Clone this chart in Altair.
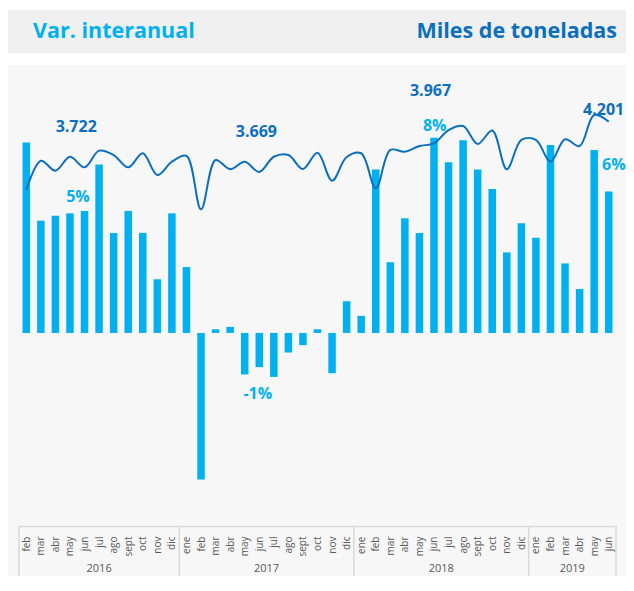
import altair as alt
import pandas as pd

months = ["feb", "mar", "abr", "may", "jun", "jul", "ago", "sept", "oct", "nov", "dic",
          "ene", "feb", "mar", "abr", "may", "jun", "jul", "ago", "sept", "oct", "nov", "dic",
          "ene", "feb", "mar", "abr", "may", "jun", "jul", "ago", "sept", "oct", "nov", "dic",
          "ene", "feb", "mar", "abr", "may", "jun"]
years = ["2016"] * 11 + ["2017"] * 12 + ["2018"] * 12 + ["2019"] * 6

var_interanual = [7.8, 4.6, 4.8, 4.9, 5.0, 6.9, 4.1, 5.0, 4.1, 2.2, 4.9,
                  2.7, -6.0, 0.15, 0.25, -1.7, -1.4, -1.8, -0.8, -0.5, 0.15, -1.65, 1.3,
                  0.7, 6.7, 2.9, 4.7, 4.1, 8.0, 7.0, 7.9, 6.7, 5.9, 3.3, 4.5,
                  3.9, 7.7, 2.85, 1.8, 7.5, 5.8]

miles_toneladas = [298.0, 324.0, 315.1, 327.5, 318.1, 332.9, 329.0, 318.1, 330.6, 311.3, 323.1,
                   328.2, 280.9, 324.6, 316.4, 323.1, 314.0, 327.5, 329.0, 316.6, 331.1, 306.3, 327.3,
                   330.6, 299.5, 333.5, 332.0, 337.0, 339.4, 351.2, 354.8, 338.8, 350.8, 316.4, 342.4,
                   342.4, 323.1, 343.0, 337.0, 364.5, 358.6]

# annotations
pct_text = ["5%", "-1%", "8%", "6%"]
pct_anchor = [3.55, 15.9, 28.05, 40.35]
pct_value = [5.57, -2.5, 8.48, 6.89]

tot_text = ["3.722", "3.669", "3.967", "4.201"]
tot_anchor = [3.43, 15.8, 27.76, 39.65]
tot_value = [353.9, 349.4, 385.8, 369.0]

W, H = 597, 451
BAR_DOM = [-7.91, 10.57]
TON_DOM = [0, 400]
LIGHT = "#00b0f0"
DARK = "#0b6fc0"
FONT = "Open Sans"

df = pd.DataFrame({
    "idx": list(range(len(months))),
    "month": months,
    "year": years,
    "var": var_interanual,
    "ton": miles_toneladas,
})
pct_df = pd.DataFrame({"t": pct_text, "idx": pct_anchor, "v": pct_value})
tot_df = pd.DataFrame({"t": tot_text, "idx": tot_anchor, "v": tot_value})
one = pd.DataFrame({"a": [0]})
head_df = pd.DataFrame({"t": ["Var. interanual"]})
head_df2 = pd.DataFrame({"t": ["Miles de toneladas"]})

label_expr = "[" + ",".join("'%s'" % m for m in months) + "][datum.value]"

xscale = alt.Scale(domain=[-0.5, len(months) - 0.5], nice=False, zero=False, padding=0)
x_axis = alt.Axis(values=list(range(len(months))), labelExpr=label_expr, labelAngle=-90,
                  ticks=False, tickSize=0, labelPadding=10, domain=True, domainColor="#d9d9d9",
                  domainWidth=1.5, grid=False, title=None, labelFont=FONT, labelFontSize=10,
                  labelColor="#595959", labelOverlap=False, labelBound=False, labelFlush=False,
                  zindex=1)


def xq(field):
    return alt.X(field, type="quantitative", scale=xscale, axis=x_axis, title=None)


bar_y = alt.Y("var:Q", scale=alt.Scale(domain=BAR_DOM, nice=False, zero=False), axis=None)
ton_y = alt.Y("ton:Q", scale=alt.Scale(domain=TON_DOM, nice=False, zero=False), axis=None)

header_bg = alt.Chart(one).mark_rect(color="#f0f0f0").encode(
    x=alt.value(-13), x2=alt.value(W + 12), y=alt.value(-65), y2=alt.value(-22))
panel_bg = alt.Chart(one).mark_rect(color="#f7f7f7").encode(
    x=alt.value(-11), x2=alt.value(W + 12), y=alt.value(-10), y2=alt.value(H + 70))

head1 = alt.Chart(head_df).mark_text(align="left", baseline="middle", font=FONT, fontSize=21.5,
                                      fontWeight="bold", color=LIGHT).encode(
    x=alt.value(14), y=alt.value(-43), text="t:N")
head2 = alt.Chart(head_df2).mark_text(align="right", baseline="middle", font=FONT, fontSize=21.5,
                                       fontWeight="bold", color=DARK).encode(
    x=alt.value(598), y=alt.value(-43), text="t:N")

bars = alt.Chart(df).mark_bar(size=7.5, color=LIGHT).encode(x=xq("idx"), y=bar_y, y2=alt.datum(0))

line = alt.Chart(df).mark_line(color=DARK, strokeWidth=2, interpolate="catmull-rom").encode(
    x=xq("idx"), y=ton_y)

pct_labels = alt.Chart(pct_df).mark_text(font=FONT, fontSize=16, fontWeight="bold",
                                          color=LIGHT, baseline="middle").encode(
    x=xq("idx"), y=alt.Y("v:Q", scale=alt.Scale(domain=BAR_DOM, nice=False, zero=False), axis=None),
    text="t:N")
tot_labels = alt.Chart(tot_df).mark_text(font=FONT, fontSize=16, fontWeight="bold",
                                          color=DARK, baseline="middle").encode(
    x=xq("idx"), y=alt.Y("v:Q", scale=alt.Scale(domain=TON_DOM, nice=False, zero=False), axis=None),
    text="t:N")

sep_left = alt.Chart(df).transform_aggregate(lo="min(idx)", groupby=["year"]).transform_calculate(
    idx="datum.lo - 0.5").mark_rule(color="#d9d9d9", strokeWidth=1.5).encode(
    x=xq("idx"), y=alt.value(H), y2=alt.value(H + 52))
sep_right = alt.Chart(df).transform_aggregate(hi="max(idx)").transform_calculate(
    idx="datum.hi + 0.5").mark_rule(color="#d9d9d9", strokeWidth=1.5).encode(
    x=xq("idx"), y=alt.value(H), y2=alt.value(H + 52))
year_labels = alt.Chart(df).transform_aggregate(mid="mean(idx)", groupby=["year"]).transform_calculate(
    idx="datum.mid").mark_text(
    font=FONT, fontSize=11, color="#595959", baseline="middle").encode(
    x=xq("idx"), y=alt.value(H + 43), text="year:N")

chart = alt.layer(
    header_bg, panel_bg, head1, head2, bars, line, pct_labels, tot_labels,
    sep_left, sep_right, year_labels
).resolve_scale(y="independent").properties(
    width=W, height=H,
    padding={"left": 11, "top": 67, "right": 10, "bottom": 50},
    autosize=alt.AutoSizeParams(type="none"),
    background="white",
).configure_view(stroke="transparent")

chart.save("out.html", embed_options={"renderer": "svg", "actions": False})
